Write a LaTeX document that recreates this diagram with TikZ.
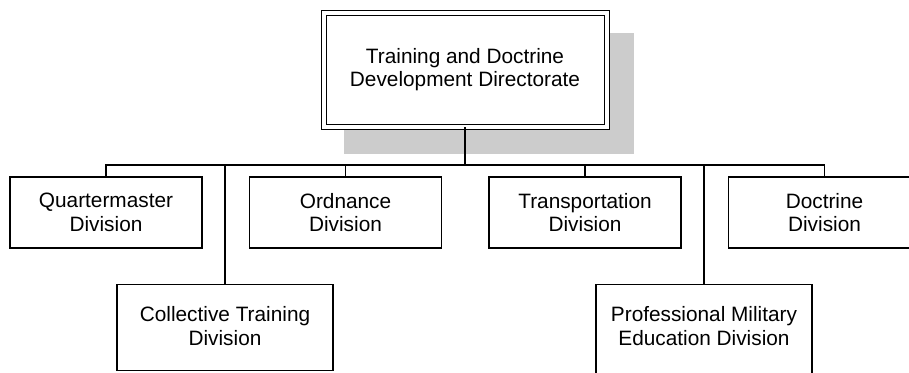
\documentclass[tikz,border=0pt]{standalone}
\usepackage{fontspec}
\setmainfont{Liberation Sans}
\usepackage{tikz}
\usetikzlibrary{positioning}
\usetikzlibrary{calc,backgrounds}
\definecolor{shadowgray}{RGB}{204,204,204}
\tikzset{div node/.style={rectangle,draw,fill=white,align=center,minimum width=96pt,minimum height=35.5pt,inner sep=0pt},
  low node/.style={div node,anchor=north,minimum width=108pt,minimum height=0pt,text height=30.25pt,text depth=12.75pt},
  head node/.style={div node,double,double distance=2pt,line width=0.5pt,minimum width=141.5pt,minimum height=57pt},}

\begin{document}
\begin{tikzpicture}[x=0.5pt, y=-0.5pt, line width=0.55pt, font=\fontsize{10.4pt}{11.75pt}\selectfont, node distance=23.2pt]
	\useasboundingbox (0,0) rectangle (909,372);
	\node[head node] (tdd) at (465,69.5) {Training and Doctrine\\Development Directorate};
	\begin{scope}[on background layer]
		\fill[shadowgray] ($(tdd.north west)+(20.5,20.5)$) rectangle ($(tdd.south east)+(26.5,26.5)$);
	\end{scope}

	\node[div node] (qm) at (106,212.5) {Quartermaster\\Division};
	\node[div node] (ord) [right = of qm] {Ordnance\\Division};
	\node[div node] (trans) [right = of ord] {Transportation\\Division};
	\node[div node] (doc) [right = of trans] {Doctrine\\Division};
	\node[low node] (coll) at (225,284) {Collective Training\\Division};
	\node[low node, text depth=40pt] (pme) at (704,284) {Professional Military\\Education Division};

	% bus from the directorate to the divisions
	\coordinate (bus) at (465,165);
	\draw (tdd) -- (bus);
	\draw (qm.north) |- (bus) -| (doc.north);
	\foreach \d in {ord,trans,coll,pme}
		\draw (\d.north) -- (\d.north |- bus);
\end{tikzpicture}
\end{document}
